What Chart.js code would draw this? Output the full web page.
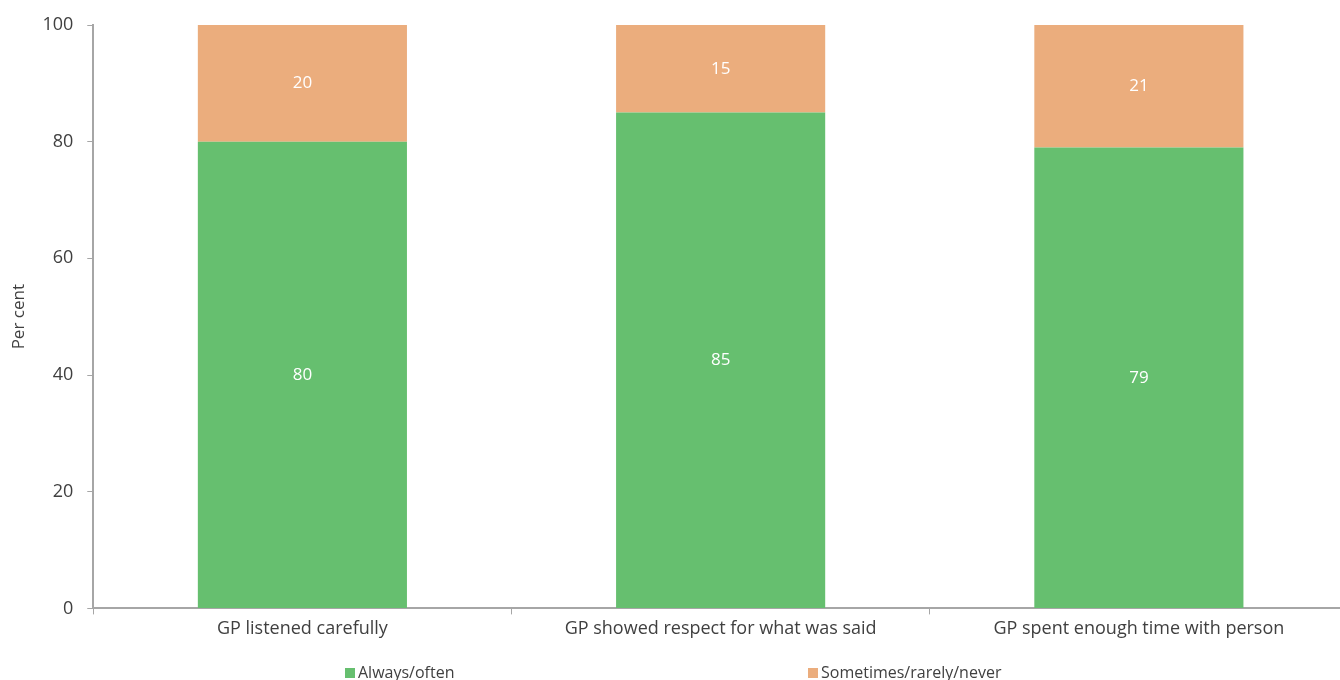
<!DOCTYPE html>
<html>
<head>
<meta charset="utf-8">
<script src="https://cdn.jsdelivr.net/npm/chart.js@4/dist/chart.umd.min.js"></script>
<style>
html,body{margin:0;padding:0;background:#fff;overflow:hidden;}
#wrap{position:relative;width:1348px;height:680px;}
</style>
</head>
<body>
<div id="wrap"><canvas id="c"></canvas></div>
<script>
const categories = ["GP listened carefully", "GP showed respect for what was said", "GP spent enough time with person"];
const alwaysOften = [80, 85, 79];
const sometimesNever = [20, 15, 21];
const seriesLabels = ["Always/often", "Sometimes/rarely/never"];
const yTicks = [0, 20, 40, 60, 80, 100];

const FONT = "'Open Sans', 'Noto Sans', sans-serif";
const TXT = "#404040";

const valueLabels = {
  id: 'valueLabels',
  afterDatasetsDraw(chart) {
    const ctx = chart.ctx;
    ctx.save();
    ctx.fillStyle = '#ffffff';
    ctx.font = "17px " + FONT;
    ctx.textAlign = 'center';
    ctx.textBaseline = 'middle';
    chart.data.datasets.forEach((ds, di) => {
      chart.getDatasetMeta(di).data.forEach((bar, i) => {
        const y = (bar.y + bar.base) / 2;
        ctx.fillText(String(ds.data[i]), bar.x, y);
      });
    });
    ctx.restore();
  }
};

const bottomLegend = {
  id: 'bottomLegend',
  afterDraw(chart) {
    const ctx = chart.ctx;
    ctx.save();
    ctx.font = "16px " + FONT;
    ctx.textBaseline = 'middle';
    ctx.textAlign = 'left';
    const xs = [345, 808];
    const y = 673;
    chart.data.datasets.forEach((ds, i) => {
      ctx.fillStyle = ds.backgroundColor;
      ctx.fillRect(xs[i], y - 5, 10, 10);
      ctx.fillStyle = TXT;
      ctx.fillText(ds.label, xs[i] + 13, y);
    });
    ctx.restore();
  }
};

new Chart(document.getElementById('c'), {
  type: 'bar',
  data: {
    labels: categories,
    datasets: [
      { label: seriesLabels[0], data: alwaysOften, backgroundColor: '#66bf6f', barPercentage: 0.5, categoryPercentage: 1.0 },
      { label: seriesLabels[1], data: sometimesNever, backgroundColor: '#ebad7d', barPercentage: 0.5, categoryPercentage: 1.0 }
    ]
  },
  options: {
    responsive: true,
    maintainAspectRatio: false,
    animation: false,
    layout: { padding: { top: 25, right: 0, left: 9, bottom: 36 } },
    plugins: {
      legend: { display: false },
      tooltip: { enabled: false }
    },
    scales: {
      x: {
        stacked: true,
        afterFit(scale) { scale.paddingLeft = 0; scale.paddingRight = 0; },
        grid: { drawOnChartArea: false, drawTicks: true, tickLength: 6, color: '#a6a6a6', offset: true },
        border: { color: '#a6a6a6', width: 2 },
        ticks: { color: TXT, font: { family: FONT, size: 18 }, padding: 4, maxRotation: 0 }
      },
      y: {
        stacked: true,
        min: 0, max: 100,
        afterBuildTicks(axis) { axis.ticks = yTicks.map(v => ({ value: v })); },
        grid: { drawOnChartArea: false, drawTicks: true, tickLength: 6, color: '#a6a6a6' },
        border: { color: '#a6a6a6', width: 2 },
        ticks: { color: TXT, font: { family: FONT, size: 18 }, padding: 14 },
        title: { display: true, text: 'Per cent', color: TXT, font: { family: FONT, size: 17 }, padding: { top: 0, bottom: -1 } }
      }
    }
  },
  plugins: [valueLabels, bottomLegend]
});
</script>
</body>
</html>
